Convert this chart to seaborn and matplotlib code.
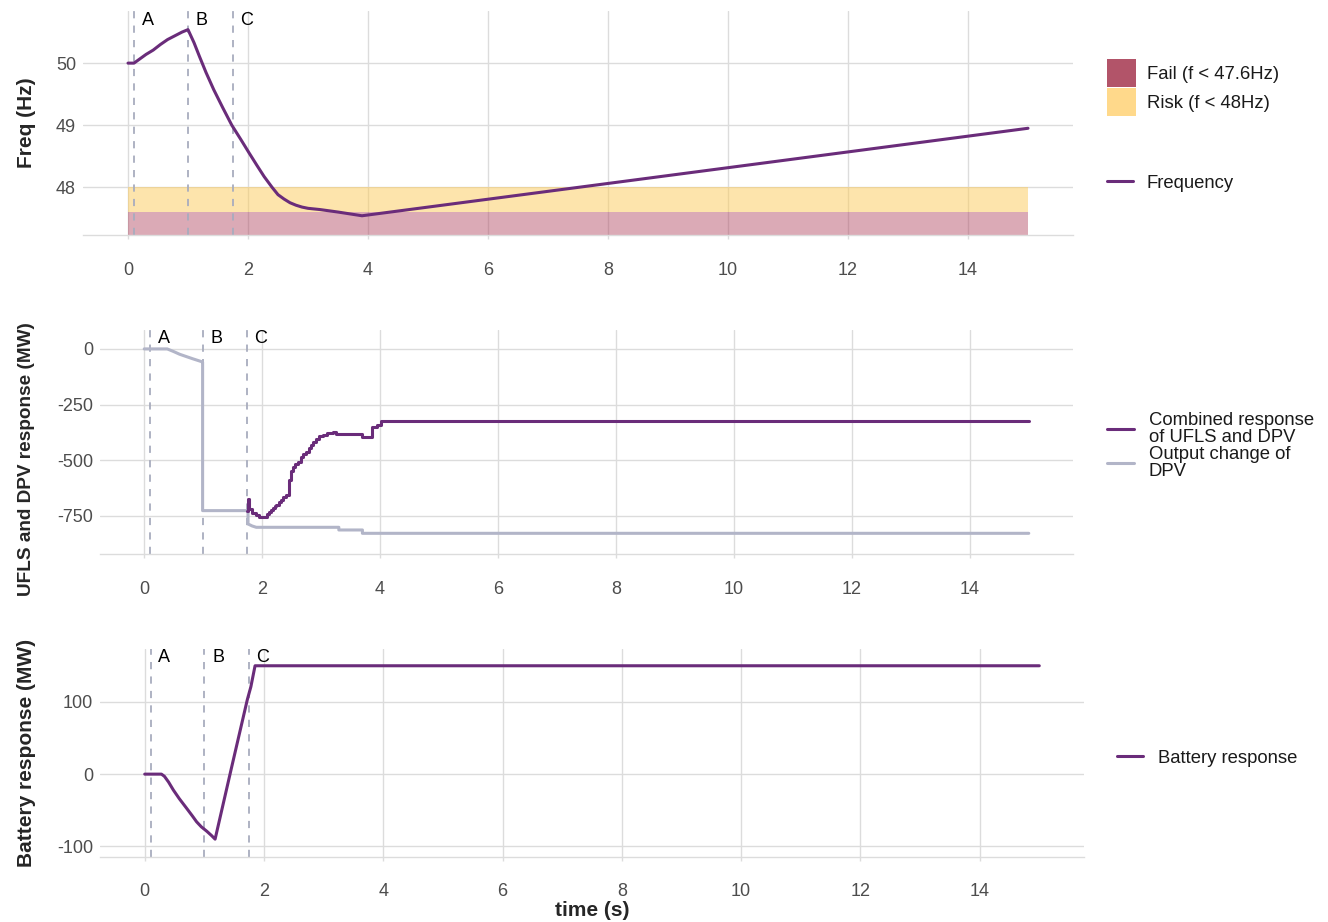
import matplotlib
matplotlib.use("Agg")
import matplotlib.pyplot as plt
import seaborn as sns
import pandas as pd
from matplotlib.lines import Line2D
from matplotlib.patches import Patch

# ---------------- data ----------------
freq_time = [0, 0.1, 0.2, 0.3, 0.42, 0.54, 0.66, 0.78, 0.9, 1.0, 1.1, 1.19, 1.3, 1.43, 1.58,
             1.73, 1.88, 2.02, 2.15, 2.27, 2.4, 2.5, 2.6, 2.7, 2.8, 2.9, 3.0, 3.2, 3.5, 3.7,
             3.9, 15]
freq_hz = [50.0, 50.0, 50.07, 50.14, 50.21, 50.30, 50.38, 50.44, 50.50, 50.54, 50.33, 50.11,
           49.85, 49.57, 49.28, 49.0, 48.77, 48.55, 48.35, 48.17, 48.0, 47.88, 47.81, 47.75,
           47.71, 47.68, 47.66, 47.64, 47.60, 47.57, 47.54, 48.95]

dpv_time = [0, 0.39, 0.5, 0.6, 0.72, 0.83, 0.97, 0.99, 0.99, 1.74, 1.76, 1.76, 1.83, 1.9,
            3.3, 3.3, 3.7, 3.7, 15]
dpv_mw = [0, 0, -12, -24, -35, -45, -57, -60, -727, -727, -727, -787, -796, -802,
          -802, -814, -814, -829, -829]

comb_time = [1.74, 1.76, 1.78, 1.82, 1.9, 1.95, 2.05, 2.09, 2.12, 2.15, 2.18, 2.21, 2.24,
             2.28, 2.32, 2.36, 2.41, 2.45, 2.46, 2.49, 2.52, 2.56, 2.6, 2.66, 2.7, 2.74,
             2.79, 2.83, 2.86, 2.92, 2.97, 3.04, 3.1, 3.2, 3.25, 3.67, 3.69, 3.87, 3.87,
             3.95, 4.01, 15]
comb_mw = [-727, -675, -720, -736, -747, -754, -754, -743, -732, -723, -715, -708, -701,
           -690, -679, -667, -656, -641, -589, -551, -529, -518, -507, -484, -473, -462,
           -447, -432, -417, -404, -391, -385, -379, -372, -382, -382, -397, -397,
           -349, -342, -322, -322]

bat_time = [0, 0.28, 0.33, 0.4, 0.48, 0.58, 0.7, 0.8, 0.87, 0.95, 1.04, 1.12, 1.18, 1.45,
            1.72, 1.78, 1.85, 15]
bat_mw = [0, 0, -3, -11, -22, -34, -47, -58, -66, -73, -79, -85, -90, 7,
          103, 121, 150, 150]

event_times = [0.1, 1.0, 1.75]
event_labels = ["A", "B", "C"]
x_ticks = [0, 2, 4, 6, 8, 10, 12, 14]
freq_ticks = [48, 49, 50]
ufls_ticks = [0, -250, -500, -750]
bat_ticks = [-100, 0, 100]
fail_level = 47.6
risk_level = 48.0
band_span = [0, 15]

# ---------------- style ----------------
sns.set_theme(style="whitegrid")
plt.rcParams['font.family'] = ['Liberation Sans', 'DejaVu Sans']
plt.rcParams['axes.unicode_minus'] = False

PURPLE = "#6A2C7A"
GRAYLINE = "#B2B5C8"
GRID = "#DCDCDC"
DASH = "#A8ACBE"
FAIL = "#B0445E"
RISK = "#FDCB5A"
FAIL_KEY = "#B25469"
RISK_KEY = "#FFD98B"
TICKC = "#4D4D4D"
LEGC = "#1A1A1A"

W, H = 1328, 922
fig = plt.figure(figsize=(W / 100, H / 100), dpi=100)
fig.patch.set_facecolor("white")


def ax_at(l, t, r, b):
    return fig.add_axes([l / W, 1 - b / H, (r - l) / W, (b - t) / H])


def px(x, y):
    return (x / W, 1 - y / H)


def style(ax, ylim, yticks, pad=16.5):
    ax.set_xlim(-0.75, 15.75)
    ax.set_ylim(*ylim)
    ax.set_xticks(x_ticks)
    ax.set_yticks(yticks)
    ax.set_facecolor("white")
    ax.grid(True, color=GRID, lw=1.0)
    ax.set_axisbelow(True)
    for s in ["top", "right", "left"]:
        ax.spines[s].set_visible(False)
    ax.spines["bottom"].set_color(GRID)
    ax.spines["bottom"].set_linewidth(1.0)
    ax.tick_params(axis="x", bottom=True, length=3, width=1.0, color=GRID, pad=pad,
                   labelsize=13, labelcolor=TICKC)
    ax.tick_params(axis="y", left=False, length=0, pad=5, labelsize=13, labelcolor=TICKC)
    ax.set_xlabel("")
    ax.set_ylabel("")


def events(ax, label_y):
    for t, lab in zip(event_times, event_labels):
        ax.axvline(t, color=DASH, lw=1.3, ls=(0, (4, 4)), zorder=2)
        ax.text(t + 0.23, label_y, lab, ha="center", va="center", fontsize=13, color="black",
                zorder=4)


# ---------------- top panel ----------------
ax1 = ax_at(83, 11, 1073, 235)
freq_ylim = (47.23, 50.84)
style(ax1, freq_ylim, freq_ticks)
ax1.fill_between(band_span, freq_ylim[0], fail_level, color=FAIL, alpha=0.45, lw=0, zorder=1)
ax1.fill_between(band_span, fail_level, risk_level, color=RISK, alpha=0.5, lw=0, zorder=1)
events(ax1, 50.69)
sns.lineplot(x=freq_time, y=freq_hz, ax=ax1, color=PURPLE, lw=2.2, estimator=None,
             sort=False, legend=False, zorder=3)
ax1.set_xlabel("")
ax1.set_ylabel("")

# ---------------- middle panel ----------------
ax2 = ax_at(100, 330, 1073, 554)
style(ax2, (-922, 85), ufls_ticks)
events(ax2, 48)
sns.lineplot(x=dpv_time, y=dpv_mw, ax=ax2, color=GRAYLINE, lw=2.2, estimator=None,
             sort=False, legend=False, zorder=3)
sns.lineplot(x=comb_time, y=comb_mw, ax=ax2, color=PURPLE, lw=2.2, estimator=None,
             sort=False, legend=False, zorder=3, drawstyle="steps-post")
ax2.set_xlabel("")
ax2.set_ylabel("")

# ---------------- bottom panel ----------------
ax3 = ax_at(100, 649, 1084, 857)
style(ax3, (-114.7, 173.2), bat_ticks, pad=15.5)
events(ax3, 162)
sns.lineplot(x=bat_time, y=bat_mw, ax=ax3, color=PURPLE, lw=2.2, estimator=None,
             sort=False, legend=False, zorder=3)
ax3.set_xlabel("")
ax3.set_ylabel("")

# ---------------- axis titles ----------------
fig.text(*px(27, 123), "Freq (Hz)", rotation=90, ha="center", va="center",
         fontsize=15, fontweight="bold")
fig.text(*px(27, 459), "UFLS and DPV response (MW)", rotation=90, ha="center", va="center",
         fontsize=13.7, fontweight="bold")
fig.text(*px(27, 753), "Battery response (MW)", rotation=90, ha="center", va="center",
         fontsize=15, fontweight="bold")
fig.text(*px(592, 910), "time (s)", ha="center", va="center", fontsize=15, fontweight="bold")

# ---------------- legends ----------------
LFS = 13.3
common = dict(frameon=False, borderpad=0, borderaxespad=0, fontsize=LFS, labelcolor=LEGC)

fig.legend(handles=[Patch(facecolor=FAIL_KEY, edgecolor="none"),
                    Patch(facecolor=RISK_KEY, edgecolor="none")],
           labels=["Fail (f < 47.6Hz)", "Risk (f < 48Hz)"],
           loc="upper left", bbox_to_anchor=px(1107, 59),
           handlelength=1.57, handleheight=1.92, handletextpad=0.62, labelspacing=0.1,
           **common)
fig.legend(handles=[Line2D([], [], color=PURPLE, lw=2.2)], labels=["Frequency"],
           loc="center left", bbox_to_anchor=px(1107, 183),
           handlelength=1.4, handletextpad=0.75, **common)

l2a = fig.legend(handles=[Line2D([], [], color=PURPLE, lw=2.2)],
                 labels=["Combined response\nof UFLS and DPV"],
                 loc="center left", bbox_to_anchor=px(1107, 429),
                 handlelength=1.45, handletextpad=0.8, **common)
l2b = fig.legend(handles=[Line2D([], [], color=GRAYLINE, lw=2.2)],
                 labels=["Output change of\nDPV"],
                 loc="center left", bbox_to_anchor=px(1107, 463),
                 handlelength=1.45, handletextpad=0.8, **common)
for lg in (l2a, l2b):
    for t in lg.get_texts():
        t.set_linespacing(1.0)

fig.legend(handles=[Line2D([], [], color=PURPLE, lw=2.2)], labels=["Battery response"],
           loc="center left", bbox_to_anchor=px(1117, 758),
           handlelength=1.4, handletextpad=0.8, **common)

fig.savefig("out.png", dpi=100, facecolor="white")
